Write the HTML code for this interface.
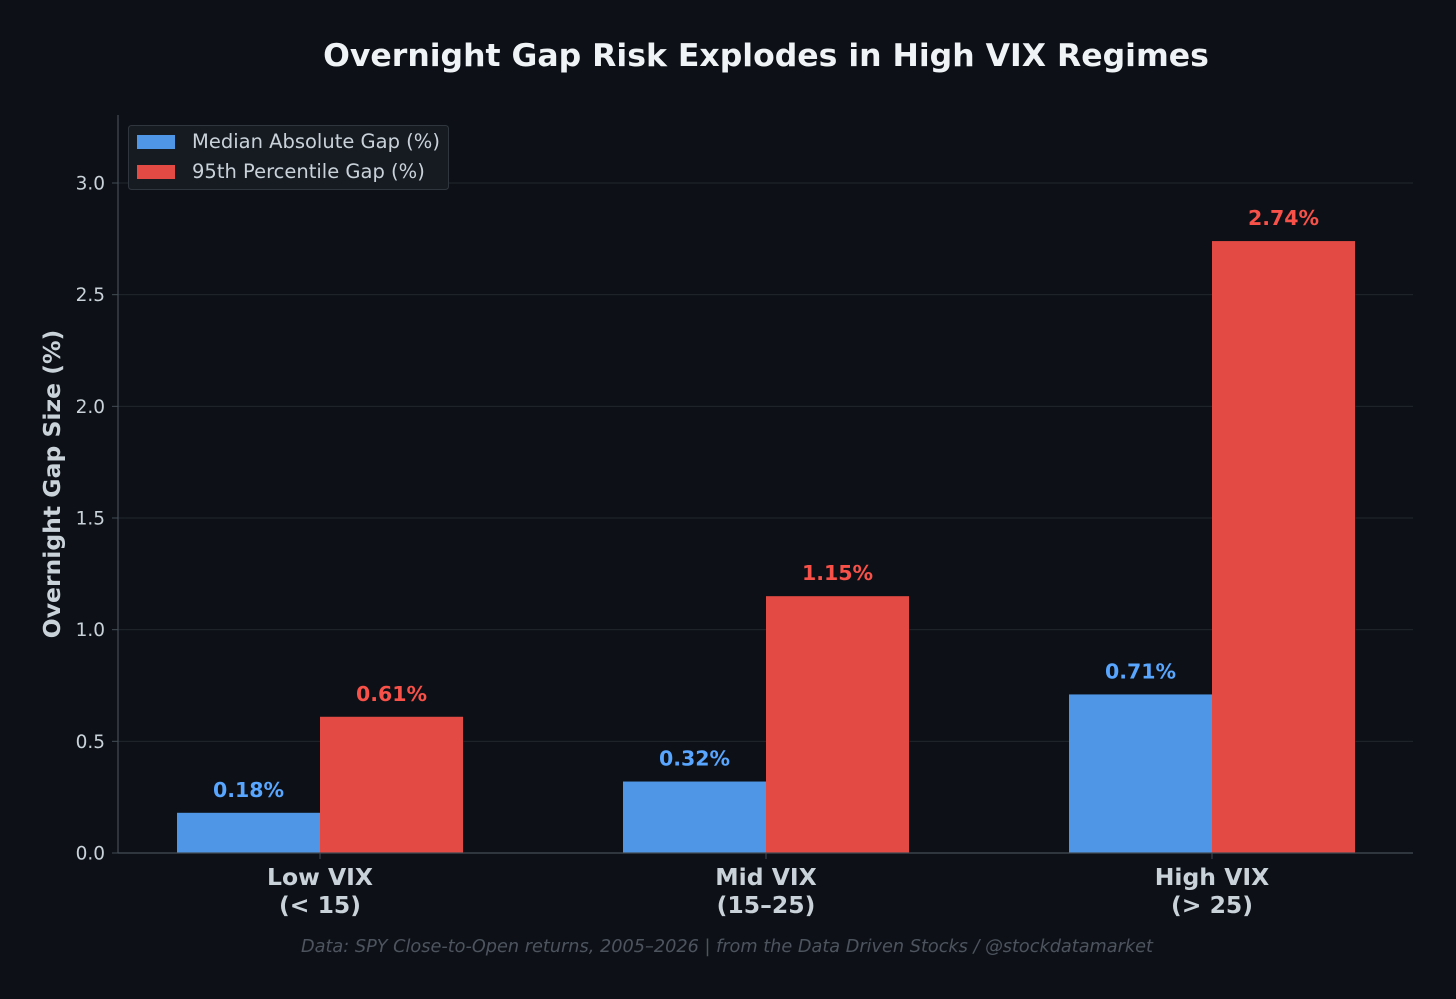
<!DOCTYPE html>
<html><head><meta charset="utf-8"><style>
html,body{margin:0;padding:0;background:#0d1117;}
svg{display:block;font-family:"DejaVu Sans","Liberation Sans",sans-serif;}
</style></head><body>
<svg id="chart" width="1456" height="999" viewBox="0 0 1456 999">
<rect width="1456" height="999" fill="#0d1117"/>
<text x="766" y="66" text-anchor="middle" font-size="31.5" font-weight="bold" fill="#f0f3f6">Overnight Gap Risk Explodes in High VIX Regimes</text>
<g id="grid"></g>
<g id="bars"></g>
<line x1="118" y1="115" x2="118" y2="853" stroke="#444c56" stroke-width="1.2"/>
<line x1="118" y1="853" x2="1413" y2="853" stroke="#444c56" stroke-width="1.2"/>
<text transform="translate(60,484) rotate(-90)" text-anchor="middle" font-size="23.5" font-weight="bold" fill="#c9d1d9">Overnight Gap Size (%)</text>
<g>
<rect x="128.5" y="125.5" width="320" height="64" rx="3" fill="#161b22" stroke="#30363d"/>
<rect x="137" y="135" width="38" height="14" fill="#4f96e6"/>
<text x="192" y="148" font-size="19.5" fill="#c9d1d9">Median Absolute Gap (%)</text>
<rect x="137" y="165" width="38" height="14" fill="#e24a43"/>
<text x="192" y="178" font-size="19.5" fill="#c9d1d9">95th Percentile Gap (%)</text>
</g>
<text x="727" y="952" text-anchor="middle" font-size="17.7" font-style="italic" fill="#4d545e">Data: SPY Close-to-Open returns, 2005–2026 | from the Data Driven Stocks / @stockdatamarket</text>
</svg>
<script>
const categories = ["Low VIX|(< 15)", "Mid VIX|(15–25)", "High VIX|(> 25)"];
const medianValues = [0.18, 0.32, 0.71];
const p95Values = [0.61, 1.15, 2.74];
const yTicks = [0, 0.5, 1.0, 1.5, 2.0, 2.5, 3.0];

const NS = "http://www.w3.org/2000/svg";
function y(v){ return 853 - v * 223.33; }
function xc(i){ return 320 + i * 446; }
const bw = 143;
function mk(tag, attrs, parent){ const e=document.createElementNS(NS,tag); for(const k in attrs) e.setAttribute(k,attrs[k]); parent.appendChild(e); return e; }
const grid = document.getElementById('grid');
const bars = document.getElementById('bars');
yTicks.forEach(t=>{
  const l = mk('line',{x1:118,x2:1413,y1:y(t),y2:y(t),stroke:'#21262d','stroke-width':1},grid);
  
  
  const tk = mk('line',{x1:112,x2:118,y1:y(t),y2:y(t),stroke:'#444c56'},grid);
  
  
  const tx = mk('text',{x:105,y:y(t)+6.5,'text-anchor':'end','font-size':18.5,fill:'#c9d1d9'},grid);
  tx.textContent = t.toFixed(1);
  
  
});
categories.forEach((c,i)=>{
  const cx = xc(i);
  const b1 = mk('rect',{x:cx-bw,y:y(medianValues[i]),width:bw,height:853-y(medianValues[i]),fill:'#4f96e6'},bars);
  
  
  const b2 = mk('rect',{x:cx,y:y(p95Values[i]),width:bw,height:853-y(p95Values[i]),fill:'#e24a43'},bars);
  
  
  const l1 = mk('text',{x:cx-bw/2,y:y(medianValues[i])-16,'text-anchor':'middle','font-size':20.5,'font-weight':'bold',fill:'#58a6ff'},bars);
  l1.textContent = medianValues[i].toFixed(2)+'%';
  
  
  const l2 = mk('text',{x:cx+bw/2,y:y(p95Values[i])-16,'text-anchor':'middle','font-size':20.5,'font-weight':'bold',fill:'#f85149'},bars);
  l2.textContent = p95Values[i].toFixed(2)+'%';
  
  
  const tk = mk('line',{x1:cx,x2:cx,y1:853,y2:859,stroke:'#444c56'},bars);
  
  
  const parts = c.split('|');
  parts.forEach((p,j)=>{
    const t = mk('text',{x:cx,y:885+j*28,'text-anchor':'middle','font-size':23.5,'font-weight':'bold',fill:'#c9d1d9'},bars);
    t.textContent = p;
    
    
  });
});
</script>
</body></html>
